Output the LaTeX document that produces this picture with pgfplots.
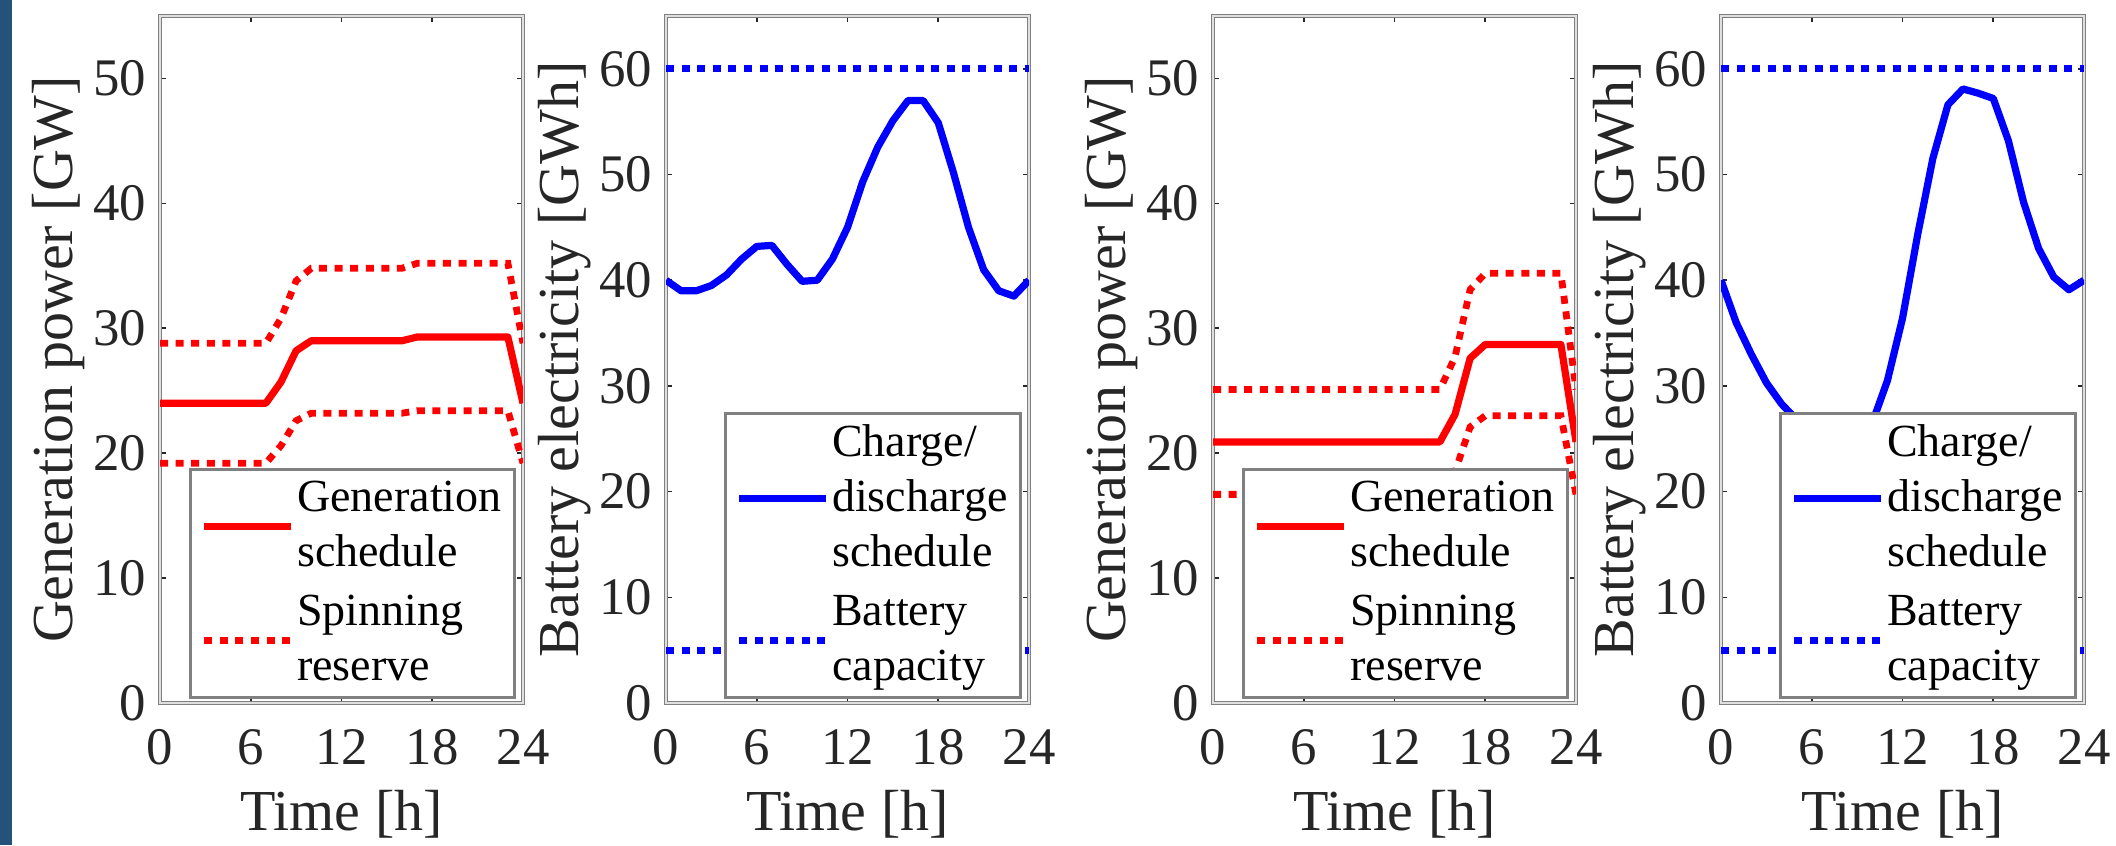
\documentclass[border=0pt]{standalone}
\usepackage{fontspec}
\setmainfont{Liberation Serif}
\usepackage{pgfplots}
\pgfplotsset{compat=1.18}

\definecolor{framegray}{RGB}{128,128,128}
\definecolor{textgray}{RGB}{38,38,38}
\definecolor{slideblue}{RGB}{36,82,122}

\newcommand\tickfont{\rmfamily\fontsize{13.2}{15}\selectfont}
\newcommand\labfont{\rmfamily\fontsize{14.5}{17}\selectfont}
\newcommand\legfont{\rmfamily\fontsize{11.5}{13.75}\selectfont}

\pgfplotsset{
  panel/.style={
    scale only axis, width=90.75pt, height=171.75pt,
    anchor=south west,
    xmin=0, xmax=24, xtick={0,6,12,18,24},
    ymin=0,
    tick align=inside, major tick length=1.5pt,
    tick style={textgray, line width=0.4pt},
    axis line style={framegray, line width=0.3pt, double=gray!25, double distance=0.35pt},
    /pgf/number format/assume math mode=true,
    xticklabel style={font=\tickfont, text=textgray, yshift=-3pt},
    yticklabel style={font=\tickfont, text=textgray},
    every axis x label/.style={at={(axis description cs:0.5,-0.1863)}, anchor=base,
      font=\labfont, text=textgray},
    every axis y label/.style={at={(axis description cs:-0.24,0.5)}, rotate=90, anchor=base,
      font=\labfont, text=textgray},
    xlabel={Time [h]},
    legend cell align=left,
    legend image code/.code={\draw[##1] (0pt,0pt) -- (21.75pt,0pt);},
    legend style={at={(1,0)}, anchor=south east, xshift=-1.75pt, yshift=1pt,
      draw=framegray, line width=0.8pt, fill=white,
      inner xsep=2.6pt, inner ysep=0pt,
      font=\legfont, text=black,
      cells={align=left},
      nodes={font=\legfont, inner xsep=0.6pt, inner ysep=2.8pt}},
  },
  sched/.style={line width=1.8pt, line join=round},
  bound/.style={line width=1.7pt, dash pattern=on 2pt off 1.9pt},
}

\begin{document}
\begin{tikzpicture}
\useasboundingbox (0,0) rectangle (529pt,211.25pt);
\fill[slideblue] (0,0) rectangle (2.9pt,211.25pt);

% (a) generation, case 1
\begin{axis}[panel, at={(40pt,35.5pt)}, ymax=55, ytick={0,10,...,50},
  ylabel={Generation power [GW]}]
  \addplot[sched, red] coordinates {
    (0,24) (7,24) (8,25.7) (9,28.2) (10,29) (16,29) (17,29.3) (23,29.3) (24,24)};
  \addlegendentry{Generation\\schedule}
  \addplot[bound, red] coordinates {
    (0,28.8) (7,28.8) (8,30.8) (9,33.8) (10,34.8) (16,34.8) (17,35.2) (23,35.2) (24,28.8)};
  \addlegendentry{Spinning\\reserve}
  \addplot[bound, red, forget plot] coordinates {
    (0,19.2) (7,19.2) (8,20.6) (9,22.6) (10,23.2) (16,23.2) (17,23.4) (23,23.4) (24,19.2)};
\end{axis}

% (b) battery, case 1
\begin{axis}[panel, at={(166.5pt,35.5pt)}, ymax=65, ytick={0,10,...,60},
  ylabel={Battery electricity [GWh]}]
  \addplot[sched, blue] coordinates {
    (0,40) (1,39) (2,39) (3,39.5) (4,40.5) (5,42) (6,43.2) (7,43.3) (8,41.5)
    (9,39.9) (10,40) (11,42) (12,45) (13,49.3) (14,52.6) (15,55.1) (16,57)
    (17,57) (18,54.9) (19,50.2) (20,45) (21,41) (22,39) (23,38.5) (24,40)};
  \addlegendentry{Charge/\\discharge\\schedule}
  \addplot[bound, blue] coordinates {(0,5) (24,5)};
  \addlegendentry{Battery\\capacity}
  \addplot[bound, blue, forget plot] coordinates {(0,60) (24,60)};
\end{axis}

% (c) generation, case 2
\begin{axis}[panel, at={(303.25pt,35.5pt)}, ymax=55, ytick={0,10,...,50},
  ylabel={Generation power [GW]}]
  \addplot[sched, red] coordinates {
    (0,20.9) (15,20.9) (16,23.1) (17,27.6) (18,28.7) (23,28.7) (24,20.9)};
  \addlegendentry{Generation\\schedule}
  \addplot[bound, red] coordinates {
    (0,25.1) (15,25.1) (16,27.7) (17,33.1) (18,34.4) (23,34.4) (24,25.1)};
  \addlegendentry{Spinning\\reserve}
  \addplot[bound, red, forget plot] coordinates {
    (0,16.7) (15,16.7) (16,18.5) (17,22.1) (18,23.0) (23,23.0) (24,16.7)};
\end{axis}

% (d) battery, case 2
\begin{axis}[panel, at={(430.25pt,35.5pt)}, ymax=65, ytick={0,10,...,60},
  ylabel={Battery electricity [GWh]}]
  \addplot[sched, blue] coordinates {
    (0,40) (1,36) (2,33) (3,30.3) (4,28.3) (5,26.8) (6,25.6) (7,24.8) (8,24.5)
    (9,25) (10,26.5) (11,30.5) (12,36.4) (13,44.3) (14,51.5) (15,56.6) (16,58.1)
    (17,57.7) (18,57.2) (19,53.2) (20,47.4) (21,43) (22,40.3) (23,39.1) (24,40)};
  \addlegendentry{Charge/\\discharge\\schedule}
  \addplot[bound, blue] coordinates {(0,5) (24,5)};
  \addlegendentry{Battery\\capacity}
  \addplot[bound, blue, forget plot] coordinates {(0,60) (24,60)};
\end{axis}
\end{tikzpicture}
\end{document}
